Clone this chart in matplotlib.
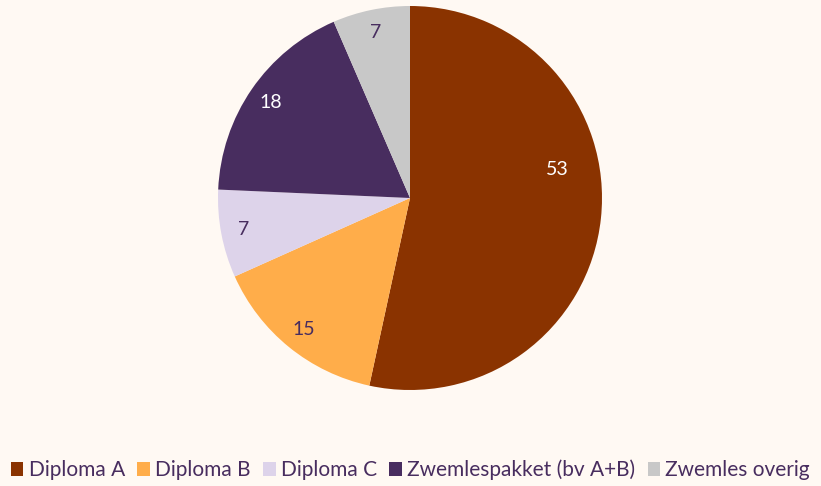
import matplotlib
matplotlib.use("Agg")
import matplotlib.pyplot as plt
from matplotlib.patches import Patch

categories = ["Diploma A", "Diploma B", "Diploma C", "Zwemlespakket (bv A+B)", "Zwemles overig"]
values = [53.4, 14.9, 7.4, 17.8, 6.5]
labels = ["53", "15", "7", "18", "7"]
colors = ["#8A3300", "#FFAD4A", "#DDD3EA", "#482D5F", "#C8C8C8"]
label_colors = ["white", "#482D5F", "#482D5F", "white", "#482D5F"]

bg = "#FFF9F3"
plt.rcParams['font.family'] = ['Lato', 'DejaVu Sans']

fig = plt.figure(figsize=(8.21, 4.86), dpi=100, facecolor=bg)
ax = fig.add_axes([218/821, 96/486, 384/821, 384/486])
ax.set_facecolor(bg)

wedges, texts = ax.pie(values, colors=colors, startangle=90, counterclock=False,
                       labels=labels, labeldistance=0.88,
                       wedgeprops=dict(linewidth=0))
for t, c in zip(texts, label_colors):
    t.set_color(c)
    t.set_fontsize(14)
    t.set_ha('center')
    t.set_va('center')
texts[0].set_position((0.766, 0.15))
ax.set_xlim(-1, 1)
ax.set_ylim(-1, 1)
ax.set_aspect('equal')

handles = [Patch(facecolor=c, edgecolor='none') for c in colors]
leg = fig.legend(handles, categories, loc='center', bbox_to_anchor=(0.5, 1 - 470/486),
                 ncol=5, frameon=False, fontsize=15, handlelength=0.6, handleheight=0.6,
                 handletextpad=0.25, columnspacing=0.6, borderpad=0, borderaxespad=0,
                 labelcolor="#482D5F")

fig.savefig("out.png", dpi=100, facecolor=bg)
